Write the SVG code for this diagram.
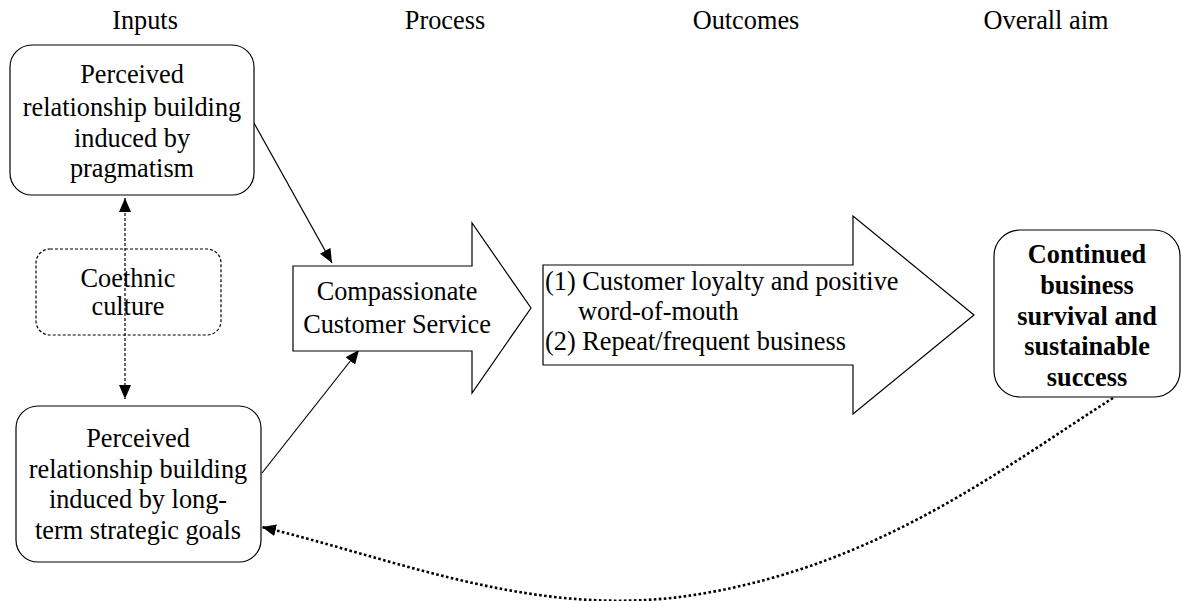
<svg xmlns="http://www.w3.org/2000/svg" width="1182" height="601" viewBox="0 0 1182 601">
<style>
text{font-family:"Liberation Serif","Times New Roman",serif;font-size:26.3px;fill:#000}
.c{text-anchor:middle}
.b{font-weight:bold}
.box{fill:#fff;stroke:#000;stroke-width:1.2}
.dbox{fill:#fff;stroke:#000;stroke-width:1.2;stroke-dasharray:3 2}
.line{stroke:#000;stroke-width:1.2;fill:none}
.dash{stroke:#000;stroke-width:1.2;fill:none;stroke-dasharray:3 2}
.dot{stroke:#000;stroke-width:2.6;fill:none;stroke-dasharray:2.6 2.4}
</style>
<defs>
<marker id="ah" viewBox="0 0 14 12" refX="14" refY="6" markerWidth="14" markerHeight="12" markerUnits="userSpaceOnUse" orient="auto-start-reverse">
<path d="M0,0 L14,6 L0,12 Z" fill="#000"/>
</marker>
</defs>
<g id="headers">
<text class="c" x="145" y="29">Inputs</text>
<text class="c" x="445" y="29">Process</text>
<text class="c" x="746" y="29">Outcomes</text>
<text class="c" x="1046" y="29">Overall aim</text>
</g>
<g id="coethnic">
<rect class="dbox" x="36" y="249" width="185" height="86" rx="14"/>
<text class="c" x="128" y="287">Coethnic</text>
<text class="c" x="128" y="315">culture</text>
</g>
<g id="connectors">
<line class="dash" x1="125" y1="198" x2="125" y2="399" marker-start="url(#ah)" marker-end="url(#ah)"/>
<line class="line" x1="254" y1="123" x2="332" y2="263" marker-end="url(#ah)"/>
<line class="line" x1="262" y1="473" x2="359" y2="350" marker-end="url(#ah)"/>
<path class="dot" d="M1113,398 C1000,470 880,564 700,594 C540,621 400,560 262,527" marker-end="url(#ah)"/>
</g>
<g id="pragmatism">
<rect class="box" x="10" y="45" width="244" height="150" rx="22"/>
<text class="c" x="132" y="83">Perceived</text>
<text class="c" x="132" y="116">relationship building</text>
<text class="c" x="132" y="147">induced by</text>
<text class="c" x="132" y="177">pragmatism</text>
</g>
<g id="strategic">
<rect class="box" x="16" y="406" width="245" height="156" rx="22"/>
<text class="c" x="138" y="447">Perceived</text>
<text class="c" x="138" y="478">relationship building</text>
<text class="c" x="138" y="508">induced by long-</text>
<text class="c" x="138" y="539">term strategic goals</text>
</g>
<g id="process">
<polygon class="box" points="293,266 472,266 472,223 531,308 472,393 472,351 293,351"/>
<text class="c" x="397" y="300">Compassionate</text>
<text class="c" x="397" y="333">Customer Service</text>
</g>
<g id="outcomes">
<polygon class="box" points="543,265 853,265 853,216 974,315 853,414 853,365 543,365"/>
<text x="545" y="290">(1) Customer loyalty and positive</text>
<text x="578" y="320">word-of-mouth</text>
<text x="545" y="350">(2) Repeat/frequent business</text>
</g>
<g id="aim">
<rect class="box" x="994" y="230" width="186" height="167" rx="26"/>
<text class="c b" x="1087" y="263">Continued</text>
<text class="c b" x="1087" y="294">business</text>
<text class="c b" x="1087" y="325">survival and</text>
<text class="c b" x="1087" y="355">sustainable</text>
<text class="c b" x="1087" y="386">success</text>
</g>
</svg>
